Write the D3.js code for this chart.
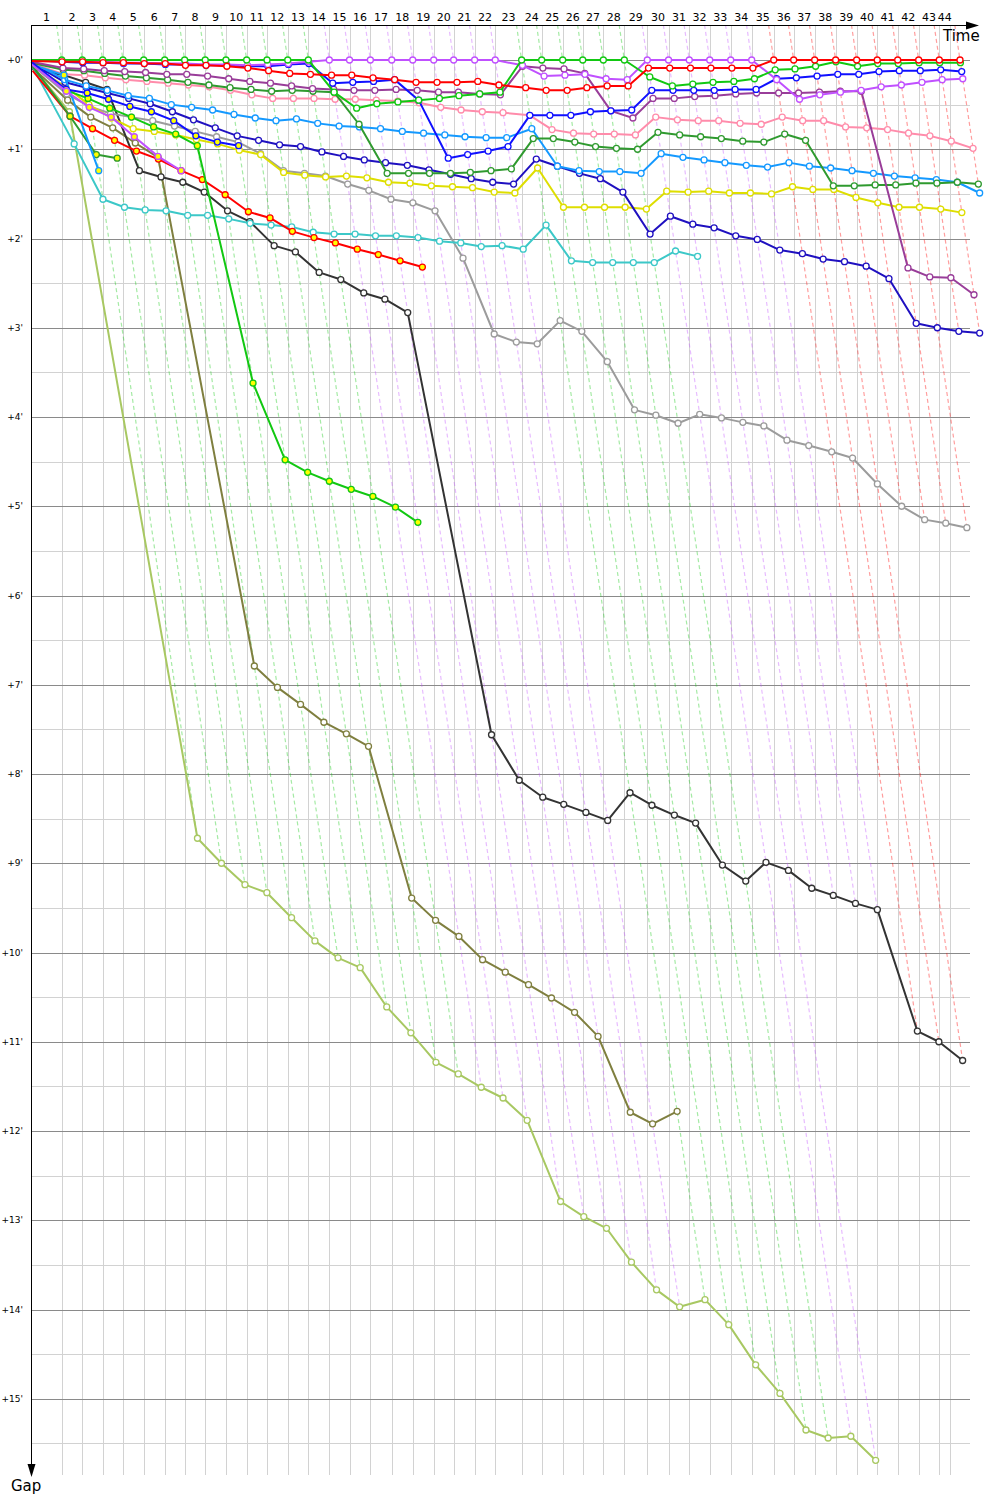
<!DOCTYPE html>
<html><head><meta charset="utf-8">
<script src="https://cdn.jsdelivr.net/npm/d3@7"></script>
<style>body{margin:0;background:#fff}</style>
</head><body><svg id="c" width="1000" height="1500"></svg>
<script>
// Leader's cumulative race time (minutes) at the end of laps 1..44
const lapTimes = [2.33,3.89,5.43,6.97,8.54,10.13,11.64,13.20,14.77,16.34,17.88,19.45,21.01,22.60,24.13,25.71,27.33,28.92,30.51,32.02,33.61,35.17,37.17,38.69,40.28,41.80,43.36,44.95,46.69,48.30,49.87,51.42,53.01,54.60,56.27,57.78,59.37,60.96,62.55,64.11,65.66,67.25,68.81,70.38];
// times of the vertical lap grid lines (the last one is drawn earlier than the leader's last lap)
const gridTimes = [2.33,3.89,5.43,6.97,8.54,10.13,11.64,13.20,14.77,16.34,17.88,19.45,21.01,22.60,24.13,25.71,27.33,28.92,30.51,32.02,33.61,35.17,37.17,38.69,40.28,41.80,43.36,44.95,46.69,48.30,49.87,51.42,53.01,54.60,56.27,57.78,59.37,60.96,62.55,64.11,65.66,67.25,68.81,69.64];
const lapLabels = d3.range(1, 45);
const gapTicks = d3.range(0, 16);

// Gap to the leader (minutes), index = lap (0 = start)
const gapRed = [0.01,0.02,0.02,0.03,0.03,0.04,0.04,0.06,0.06,0.07,0.09,0.12,0.15,0.16,0.17,0.17,0.20,0.22,0.25,0.25,0.25,0.24,0.28,0.31,0.34,0.34,0.31,0.29,0.29,0.09,0.09,0.09,0.09,0.09,0.09,0,0,0,0,0,0,0,0,0,0];
const gapGreen = [0,0,0,0,0,0,0,0,0,0,0,0,0,0,0.36,0.54,0.49,0.47,0.45,0.43,0.40,0.38,0.36,0,0,0,0,0,0,0.19,0.29,0.27,0.25,0.24,0.21,0.11,0.10,0.07,0.02,0.07,0.04,0.04,0.03,0.03,0.03];
const gapViolet = [0.01,0.01,0.01,0.02,0.03,0.03,0.04,0.04,0.05,0.05,0.06,0.05,0.04,0.02,0,0,0,0,0,0,0,0,0,0.06,0.18,0.17,0.16,0.21,0.22,0,0,0,0,0,0,0.22,0.44,0.39,0.36,0.34,0.30,0.28,0.25,0.22,0.21];
const gapPurple = [0.02,0.09,0.10,0.12,0.13,0.14,0.16,0.16,0.18,0.21,0.24,0.26,0.29,0.32,0.33,0.34,0.34,0.33,0.34,0.36,0.36,0.38,0.39,0.07,0.09,0.10,0.15,0.57,0.65,0.43,0.43,0.41,0.40,0.38,0.37,0.37,0.37,0.36,0.35,0.35,2.33,2.43,2.44,2.63];
const gapBlue = [0,0.02,0.03,0.03,0.04,0.04,0.05,0.05,0.06,0.06,0.07,0.07,0.05,0.04,0.26,0.25,0.24,0.22,0.45,1.10,1.06,1.02,0.97,0.62,0.62,0.62,0.58,0.57,0.56,0.34,0.34,0.34,0.34,0.33,0.33,0.21,0.20,0.18,0.16,0.16,0.13,0.12,0.12,0.11,0.13];
const gapDkGreen = [0.03,0.11,0.12,0.15,0.18,0.20,0.22,0.25,0.28,0.31,0.33,0.35,0.34,0.35,0.36,0.72,1.27,1.27,1.27,1.27,1.26,1.24,1.22,0.88,0.88,0.92,0.97,0.99,1.00,0.81,0.84,0.86,0.88,0.91,0.92,0.83,0.90,1.41,1.41,1.40,1.40,1.38,1.38,1.37,1.39];
const gapPink = [0.04,0.16,0.17,0.20,0.22,0.24,0.26,0.28,0.30,0.34,0.39,0.43,0.43,0.43,0.44,0.44,0.45,0.46,0.48,0.53,0.56,0.58,0.59,0.62,0.78,0.82,0.83,0.83,0.84,0.64,0.67,0.68,0.68,0.71,0.72,0.64,0.68,0.68,0.75,0.76,0.78,0.82,0.85,0.91,0.99];
const gapLtBlue = [0.02,0.22,0.29,0.34,0.40,0.43,0.50,0.53,0.56,0.61,0.65,0.68,0.66,0.71,0.74,0.75,0.77,0.80,0.82,0.84,0.86,0.87,0.87,0.77,1.19,1.24,1.25,1.25,1.27,1.05,1.09,1.12,1.15,1.18,1.20,1.15,1.19,1.21,1.24,1.27,1.30,1.32,1.34,1.37,1.49];
const gapNavy = [0.03,0.25,0.31,0.37,0.43,0.49,0.58,0.67,0.76,0.85,0.90,0.95,0.97,1.03,1.08,1.12,1.15,1.18,1.23,1.28,1.33,1.37,1.39,1.11,1.19,1.27,1.33,1.48,1.95,1.75,1.84,1.88,1.97,2.01,2.13,2.17,2.23,2.26,2.31,2.45,2.95,3.00,3.04,3.06];
const gapYellow = [0.06,0.30,0.50,0.65,0.77,0.80,0.84,0.89,0.94,1.01,1.06,1.26,1.29,1.31,1.30,1.32,1.37,1.38,1.41,1.42,1.43,1.48,1.49,1.21,1.65,1.65,1.65,1.65,1.67,1.47,1.48,1.47,1.49,1.49,1.50,1.42,1.45,1.45,1.54,1.60,1.65,1.65,1.67,1.71];
const gapGray = [0.05,0.38,0.52,0.60,0.64,0.68,0.74,0.80,0.86,0.92,1.05,1.24,1.27,1.30,1.39,1.46,1.56,1.60,1.69,2.22,3.07,3.16,3.18,2.92,3.04,3.38,3.92,3.98,4.07,3.97,4.01,4.06,4.10,4.26,4.32,4.39,4.46,4.75,5.00,5.15,5.19,5.24];
const gapCyan = [0.06,0.94,1.56,1.65,1.68,1.69,1.74,1.74,1.78,1.83,1.85,1.87,1.93,1.95,1.95,1.97,1.97,1.99,2.03,2.05,2.09,2.08,2.12,1.85,2.25,2.27,2.27,2.27,2.27,2.14,2.20];
const gapRed2 = [0.12,0.63,0.77,0.90,1.02,1.11,1.24,1.34,1.51,1.70,1.77,1.92,1.99,2.05,2.12,2.18,2.25,2.32];
const gapBlack = [0.10,0.17,0.25,0.33,1.24,1.31,1.37,1.48,1.69,1.81,2.08,2.15,2.38,2.46,2.61,2.68,2.83,7.56,8.07,8.26,8.34,8.43,8.52,8.21,8.35,8.46,8.55,9.02,9.20,8.99,9.08,9.28,9.36,9.45,9.52,10.88,11.00,11.21];
const gapOlive = [0.08,0.45,0.64,0.76,0.93,1.09,6.79,7.03,7.22,7.42,7.55,7.69,9.39,9.64,9.82,10.08,10.22,10.36,10.51,10.67,10.94,11.79,11.92,11.78];
const gapLtOlive = [0.07,0.58,8.72,9.00,9.24,9.33,9.61,9.87,10.06,10.17,10.61,10.90,11.23,11.36,11.51,11.63,11.88,12.79,12.96,13.09,13.47,13.78,13.97,13.89,14.17,14.62,14.94,15.35,15.44,15.42,15.69];
const gapViolet2 = [0.05,0.35,0.53,0.64,0.86,1.08,1.24];
const gapBlue2 = [0.02,0.33,0.37,0.44,0.52,0.58,0.68,0.85,0.92,0.96];
const gapLtBlue2 = [0.05,0.17,1.24];
const gapDkGreen2 = [0.06,0.63,1.06,1.10];
const gapGreen2 = [0.04,0.34,0.43,0.54,0.64,0.75,0.83,0.96,3.62,4.48,4.62,4.72,4.81,4.89,5.01,5.18];

const cars = [
  {gaps: gapLtOlive, color: '#a8c862', fill: '#fff'},
  {gaps: gapOlive, color: '#7f7f3f', fill: '#fff'},
  {gaps: gapBlack, color: '#333333', fill: '#fff'},
  {gaps: gapGray, color: '#9c9c9c', fill: '#fff'},
  {gaps: gapCyan, color: '#3cc8c8', fill: '#fff'},
  {gaps: gapRed2, color: '#ff0000', fill: '#ffff00'},
  {gaps: gapYellow, color: '#dede00', fill: '#fff'},
  {gaps: gapNavy, color: '#1f10c0', fill: '#fff'},
  {gaps: gapLtBlue, color: '#1499ff', fill: '#fff'},
  {gaps: gapPink, color: '#ff8cab', fill: '#fff'},
  {gaps: gapDkGreen, color: '#2f9a2f', fill: '#fff'},
  {gaps: gapPurple, color: '#993d99', fill: '#fff'},
  {gaps: gapGreen2, color: '#12c812', fill: '#ffff00'},
  {gaps: gapDkGreen2, color: '#2f9a2f', fill: '#ffff00'},
  {gaps: gapLtBlue2, color: '#1499ff', fill: '#ffff00'},
  {gaps: gapBlue2, color: '#1010ff', fill: '#ffff00'},
  {gaps: gapViolet2, color: '#c050ff', fill: '#ffff00'},
  {gaps: gapBlue, color: '#1010ff', fill: '#fff'},
  {gaps: gapViolet, color: '#c050ff', fill: '#fff'},
  {gaps: gapGreen, color: '#12c812', fill: '#fff'},
  {gaps: gapRed, color: '#ff0000', fill: '#fff'}
];

const svg = d3.select('#c');
const xLeft = 31, xRight = 970, yTop = 25, yBottom = 1475;
const x = d3.scaleLinear().domain([0, lapTimes[lapTimes.length - 1]]).range([31, 960]);
const y = d3.scaleLinear().domain([0, 16]).range([60, 1488]);
const lapTime = lap => lap === 0 ? 0 : lapTimes[lap - 1];
const gridTime = lap => lap === 0 ? 0 : gridTimes[lap - 1];

// horizontal grid
const halfSteps = d3.range(0, 15.51, 0.5);
svg.append('g').selectAll('line').data(halfSteps.filter(d => d % 1 !== 0)).join('line')
  .attr('x1', xLeft).attr('x2', xRight)
  .attr('y1', d => Math.round(y(d)) + 0.5).attr('y2', d => Math.round(y(d)) + 0.5)
  .attr('stroke', '#d2d2d2');
// vertical grid
svg.append('g').selectAll('line').data(gridTimes).join('line')
  .attr('x1', d => Math.round(x(d)) + 0.5).attr('x2', d => Math.round(x(d)) + 0.5)
  .attr('y1', yTop).attr('y2', yBottom)
  .attr('stroke', '#d2d2d2');
svg.append('g').selectAll('line').data(gapTicks).join('line')
  .attr('x1', xLeft).attr('x2', xRight)
  .attr('y1', d => Math.round(y(d)) + 0.5).attr('y2', d => Math.round(y(d)) + 0.5)
  .attr('stroke', '#8a8a8a');

// lap lines (dashed), coloured by the leader of that lap
const gTop = y.invert(yTop);
const lapInfo = lapLabels.map(lap => {
  let best = null, gmax = 0;
  cars.forEach(c => {
    if (c.gaps.length > lap) {
      const g = c.gaps[lap];
      if (best === null || g < best.g) best = {g, color: c.color};
      if (g > gmax) gmax = g;
    }
  });
  return {lap, t: lapTime(lap), gmax, color: best.color};
});
svg.append('g').selectAll('line').data(lapInfo).join('line')
  .attr('x1', d => x(d.t + gTop)).attr('y1', y(gTop))
  .attr('x2', d => x(d.t + d.gmax)).attr('y2', d => y(d.gmax))
  .attr('stroke', d => d.color).attr('stroke-opacity', 0.38)
  .attr('stroke-width', 1.2).attr('stroke-dasharray', '4,3');

// series
const line = d3.line().x(d => x(lapTime(d.lap) + d.g)).y(d => y(d.g));
cars.forEach(c => {
  const pts = c.gaps.map((g, lap) => ({lap, g}));
  const gr = svg.append('g');
  gr.append('path').datum(pts).attr('d', line)
    .attr('fill', 'none').attr('stroke', c.color).attr('stroke-width', 2)
    .attr('stroke-linejoin', 'round');
  gr.selectAll('circle').data(pts.filter(p => p.lap > 0)).join('circle')
    .attr('cx', d => x(lapTime(d.lap) + d.g)).attr('cy', d => y(d.g)).attr('r', 3)
    .attr('fill', c.fill).attr('stroke', c.color).attr('stroke-width', 1.3);
});

// axes
const font = "'DejaVu Sans', Verdana, sans-serif";
svg.append('line').attr('x1', xLeft).attr('x2', 968).attr('y1', yTop + 0.5).attr('y2', yTop + 0.5).attr('stroke', '#000');
svg.append('path').attr('d', `M966,${yTop - 3.5}L979,${yTop + 0.5}L966,${yTop + 4.5}Z`).attr('fill', '#000');
svg.append('line').attr('x1', xLeft + 0.5).attr('x2', xLeft + 0.5).attr('y1', yTop).attr('y2', 1466).attr('stroke', '#000');
svg.append('path').attr('d', `M${xLeft - 3.5},1464L${xLeft + 0.5},1477L${xLeft + 4.5},1464Z`).attr('fill', '#000');

svg.append('g').selectAll('text').data(lapLabels).join('text')
  .attr('x', d => (x(gridTime(d - 1)) + x(gridTime(d))) / 2)
  .attr('y', 21).attr('text-anchor', 'middle')
  .attr('font-family', font).attr('font-size', 11).attr('fill', '#000')
  .text(d => d);
svg.append('g').selectAll('text').data(gapTicks).join('text')
  .attr('x', 23).attr('y', d => y(d) + 3).attr('text-anchor', 'end')
  .attr('font-family', font).attr('font-size', 9).attr('fill', '#000')
  .text(d => `+${d}'`);
svg.append('text').attr('x', 943).attr('y', 41).attr('font-family', font).attr('font-size', 15).text('Time');
svg.append('text').attr('x', 11).attr('y', 1491).attr('font-family', font).attr('font-size', 15).text('Gap');
</script></body></html>
